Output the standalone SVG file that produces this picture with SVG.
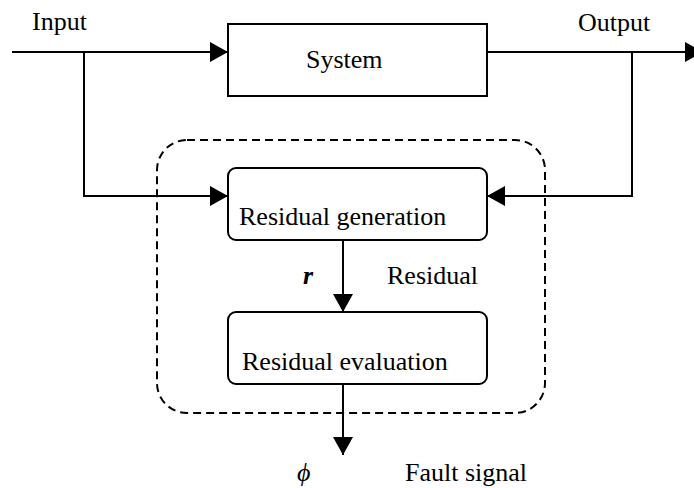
<svg xmlns="http://www.w3.org/2000/svg" width="694" height="488" viewBox="0 0 694 488">
<defs>
<marker id="ah" markerUnits="userSpaceOnUse" markerWidth="18" markerHeight="20" refX="18" refY="10" orient="auto" overflow="visible">
<path d="M0,0 L18,10 L0,20 z" fill="#000"/>
</marker>
<style>
text{font-family:'Liberation Serif',serif;font-size:26px;fill:#000}
.box{fill:#fff;stroke:#000;stroke-width:2}
.ln{fill:none;stroke:#000;stroke-width:2}
.dash{fill:none;stroke:#000;stroke-width:2;stroke-dasharray:8,5}
</style>
</defs>
<rect width="694" height="488" fill="#fff"/>
<g id="boundary">
<rect x="157" y="140" width="388" height="273" rx="30" ry="30" class="dash"/>
</g>
<g id="connectors">
<path class="ln" d="M12,52 H228" marker-end="url(#ah)"/>
<path class="ln" d="M487,52 H703" marker-end="url(#ah)"/>
<path class="ln" d="M84,52 V196 H228" marker-end="url(#ah)"/>
<path class="ln" d="M632,52 V196 H487" marker-end="url(#ah)"/>
<path class="ln" d="M343,240 V312" marker-end="url(#ah)"/>
<path class="ln" d="M343,384 V455" marker-end="url(#ah)"/>
</g>
<g id="system">
<rect class="box" x="228" y="24" width="259" height="72"/>
<text x="306" y="68">System</text>
</g>
<g id="residual-generation">
<rect class="box" x="228" y="168" width="259" height="72" rx="8" ry="8"/>
<text x="239" y="225">Residual generation</text>
</g>
<g id="residual-evaluation">
<rect class="box" x="228" y="312" width="259" height="72" rx="8" ry="8"/>
<text x="242" y="370">Residual evaluation</text>
</g>
<g id="labels">
<text x="32" y="30">Input</text>
<text x="578" y="31">Output</text>
<text x="303" y="284" font-weight="bold" font-style="italic">r</text>
<text x="387" y="284">Residual</text>
<text x="297" y="481" font-style="italic">ϕ</text>
<text x="405" y="481">Fault signal</text>
</g>
</svg>
